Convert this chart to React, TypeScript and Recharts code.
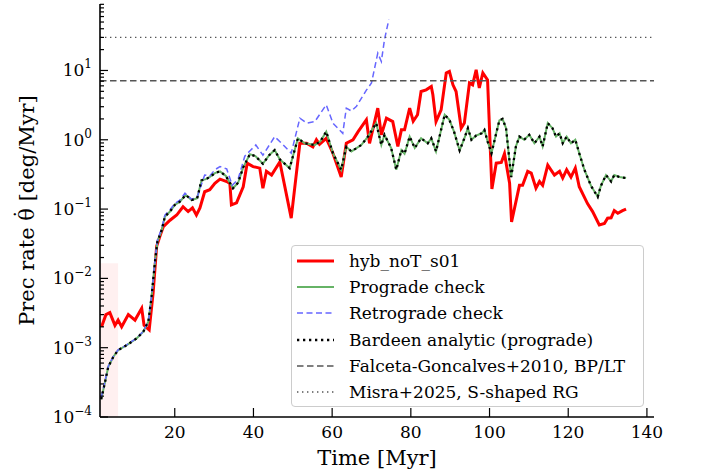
import React from 'react';
import {
  Legend,
  Line,
  LineChart,
  ReferenceArea,
  ReferenceLine,
  XAxis,
  YAxis,
} from 'recharts';

const FONT = '"DejaVu Serif", serif';

// hyb_noT_s01 (red), precession rate in deg/Myr
const hybTime = [
  1.4, 2.5, 3.5, 4.8, 5.6, 6.5, 8.2, 9.9, 11.6, 12.2,
  13.5, 14.5, 15.4, 16.2, 17.1, 18.8, 20.5, 22.1, 23.4, 24.5,
  25.5, 26.4, 27.6, 28.9, 30.2, 31.5, 33.2, 34.0, 34.4, 35.7,
  37.4, 38.4, 39.9, 41.6, 42.4, 43.3, 44.6, 46.7, 49.6, 51.8,
  53.5, 55.1, 56.0, 56.8, 58.5, 60.2, 62.3, 63.6, 65.3, 66.6,
  68.7, 69.5, 71.6, 72.5, 73.8, 75.4, 76.7, 77.6, 78.4, 79.7,
  80.6, 81.7, 82.6, 83.9, 85.2, 85.6, 86.4, 87.7, 89.0, 89.8,
  90.7, 91.5, 92.8, 93.6, 94.9, 95.7, 96.6, 97.4, 98.3, 99.5,
  100.6, 101.7, 103.0, 103.8, 105.1, 105.6, 107.6, 108.4, 109.7, 110.6,
  111.8, 112.7, 113.5, 114.8, 116.5, 117.8, 118.6, 119.6, 120.7, 121.8,
  122.8, 124.9, 126.2, 127.9, 129.2, 130.0, 130.9, 131.7, 132.6, 133.8,
  134.7,
];
const hybRate = [
  0.002, 0.003, 0.0032, 0.0021, 0.0025, 0.002, 0.003, 0.0025, 0.0037, 0.0021,
  0.0018, 0.0062, 0.029, 0.04, 0.056, 0.069, 0.082, 0.108, 0.092, 0.104,
  0.082, 0.104, 0.178, 0.19, 0.235, 0.27, 0.25, 0.235, 0.115, 0.123,
  0.21, 0.46, 0.41, 0.39, 0.2, 0.35, 0.31, 0.48, 0.074, 0.89,
  0.89, 0.79, 1.0, 0.86, 1.05, 0.64, 0.29, 0.89, 1.0, 1.31,
  1.94, 0.89, 2.86, 1.18, 2.05, 1.83, 0.8, 1.39, 1.39, 2.86,
  1.85, 2.3, 4.97, 5.25, 5.87, 4.45, 1.83, 2.7, 9.2, 9.7,
  6.2, 4.97, 1.47, 1.74, 6.6, 6.2, 10.2, 5.6, 9.2, 7.3,
  0.195, 0.46, 0.47, 0.63, 0.236, 0.065, 0.22, 0.22, 0.35, 0.33,
  0.2, 0.25, 0.22, 0.43, 0.31, 0.35, 0.28, 0.37, 0.29, 0.39,
  0.21, 0.12, 0.092, 0.059, 0.062, 0.074, 0.075, 0.095, 0.087, 0.095,
  0.1,
];

// Prograde check (green) and Bardeen analytic (black dotted) overlap
const progTime = [
  1.3, 2.0, 3.1, 4.4, 5.6, 7.8, 10.3, 12.0, 13.3, 14.1,
  15.0, 15.6, 16.7, 17.5, 18.8, 20.0, 21.3, 22.8, 24.3, 25.7,
  26.8, 27.9, 28.9, 30.2, 31.5, 33.0, 34.8, 36.1, 37.4, 39.1,
  40.5, 42.4, 44.0, 45.4, 46.7, 49.2, 51.3, 53.0, 55.6, 57.0,
  58.5, 60.2, 62.3, 63.6, 64.9, 67.4, 69.1, 71.2, 72.5, 73.3,
  75.0, 76.3, 77.6, 78.4, 79.7, 81.0, 82.6, 84.3, 85.2, 86.4,
  88.6, 89.8, 91.0, 92.4, 93.6, 94.5, 95.4, 96.6, 98.0, 98.7,
  99.5, 100.5, 101.7, 102.5, 103.3, 104.2, 105.5, 106.7, 107.6, 108.8,
  110.1, 111.4, 112.7, 113.5, 114.8, 116.0, 116.9, 117.8, 118.6, 119.6,
  120.7, 121.8, 122.8, 124.1, 125.8, 127.5, 128.3, 129.6, 130.9, 131.7,
  133.0, 134.7,
];
const progRate = [
  0.00018, 0.00027, 0.00053, 0.00074, 0.00092, 0.00109, 0.00136, 0.0017, 0.0024, 0.0054,
  0.018, 0.034, 0.05, 0.078, 0.092, 0.115, 0.128, 0.16, 0.135, 0.143,
  0.26, 0.27, 0.29, 0.33, 0.35, 0.3, 0.2, 0.24, 0.4, 0.62,
  0.58, 0.45, 0.6, 0.71, 0.52, 0.39, 1.05, 0.89, 0.84, 0.95,
  1.31, 0.64, 0.37, 0.79, 0.68, 0.84, 1.11, 1.74, 0.84, 1.18,
  0.76, 0.37, 0.71, 0.63, 1.11, 0.76, 1.05, 0.89, 1.05, 0.68,
  2.3, 1.94, 1.3, 0.7, 1.05, 1.47, 1.0, 1.15, 1.24, 1.39,
  0.95, 0.64, 1.24, 1.9, 2.0, 1.47, 0.29, 0.8, 1.11, 1.0,
  1.18, 0.89, 1.11, 0.8, 1.74, 1.47, 1.11, 1.24, 0.89, 1.11,
  0.89, 1.0, 0.64, 0.37, 0.216, 0.15, 0.216, 0.31, 0.25, 0.31,
  0.29, 0.28,
];

// Retrograde check (blue dashed)
const retroTime = [
  1.3, 2.0, 3.1, 4.4, 5.6, 7.8, 10.3, 12.0, 13.3, 14.1,
  15.0, 15.6, 16.7, 17.5, 18.8, 20.0, 21.3, 22.6, 24.3, 25.7,
  27.6, 28.9, 30.2, 31.5, 33.2, 34.6, 36.1, 37.8, 39.2, 40.6,
  42.4, 45.4, 47.5, 49.6, 51.8, 53.5, 55.6, 58.5, 60.2, 62.7,
  63.6, 64.9, 66.2, 68.7, 70.0, 71.6, 72.5, 73.3, 74.4,
];
const retroRate = [
  0.00019, 0.00028, 0.00054, 0.00075, 0.00093, 0.0011, 0.00137, 0.00172, 0.0024, 0.0056,
  0.019, 0.036, 0.053, 0.082, 0.098, 0.12, 0.135, 0.17, 0.138, 0.15,
  0.31, 0.3, 0.37, 0.41, 0.38, 0.22, 0.27, 0.58, 0.7, 0.84,
  0.6, 1.11, 0.85, 0.64, 2.05, 1.74, 1.83, 3.2, 1.74, 1.24,
  2.86, 2.6, 3.05, 5.2, 6.6, 17.8, 13.5, 27.8, 54,
];

// Reference rates
const FALCETA_RATE = 7.1;
const MISRA_RATE = 30;

// Shaded early window
const SHADE_T = [1, 5.6];
const SHADE_RATE = [1e-4, 0.0165];

const X_DOMAIN = [1, 141.8];
const Y_DOMAIN = [1e-4, 91];
const X_TICKS = [20, 40, 60, 80, 100, 120, 140];
const Y_MAJOR = [1e-4, 1e-3, 1e-2, 1e-1, 1, 10];
const Y_TICKS: number[] = [];
Y_MAJOR.forEach((d) => {
  for (let k = 1; k <= 9; k++) {
    const v = +(d * k).toPrecision(3);
    if (v <= Y_DOMAIN[1]) Y_TICKS.push(v);
  }
});

const LEGEND_NAMES = [
  'hyb_noT_s01',
  'Prograde check',
  'Retrograde check',
  'Bardeen analytic (prograde)',
  'Falceta-Goncalves+2010, BP/LT',
  'Misra+2025, S-shaped RG',
];

const STYLES = [
  { stroke: '#ff0000', width: 3, dash: undefined as string | undefined },
  { stroke: '#66b366', width: 2, dash: undefined },
  { stroke: '#6666ff', width: 1.5, dash: '6 3.5' },
  { stroke: '#000000', width: 2.3, dash: '2.3 3.7' },
  { stroke: '#555555', width: 1.4, dash: '6.5 3.5' },
  { stroke: '#555555', width: 1.4, dash: '1.4 3.6' },
];

const toPoints = (ts: number[], vs: number[]) => ts.map((t, i) => ({ t, v: vs[i] }));
const hybData = toPoints(hybTime, hybRate);
const progData = toPoints(progTime, progRate);
const retroData = toPoints(retroTime, retroRate);

const isMajor = (v: number) => Math.abs(Math.log10(v) - Math.round(Math.log10(v))) < 1e-6;

function LeftTick(props: any) {
  const { x, y, payload } = props;
  const v = payload.value;
  const major = isMajor(v);
  const exp = Math.round(Math.log10(v));
  return (
    <g>
      <line x1={x} x2={x + (major ? 8 : 4)} y1={y} y2={y} stroke="#000" strokeWidth={1.2} />
      {major && (
        <text x={x - 8} y={y + 6} textAnchor="end" fontFamily={FONT} fontSize={17} fill="#000">
          10
          <tspan dy={-8} fontSize={12}>
            {exp < 0 ? `\u2212${-exp}` : `${exp}`}
          </tspan>
        </text>
      )}
    </g>
  );
}

function RightTick(props: any) {
  const { x, y, payload } = props;
  const len = isMajor(payload.value) ? 8 : 4;
  return <line x1={x} x2={x - len} y1={y} y2={y} stroke="#000" strokeWidth={1.2} />;
}

function BottomTick(props: any) {
  const { x, y, payload } = props;
  return (
    <g>
      <line x1={x} x2={x} y1={y} y2={y - 9} stroke="#000" strokeWidth={1.2} />
      <text x={x} y={y + 21} textAnchor="middle" fontFamily={FONT} fontSize={17} fill="#000">
        {payload.value}
      </text>
    </g>
  );
}

function TopTick(props: any) {
  const { x, y } = props;
  return <line x1={x} x2={x} y1={y} y2={y + 9} stroke="#000" strokeWidth={1.2} />;
}

function YTitle(p: any) {
  const cy = p.viewBox.y + p.viewBox.height / 2;
  return (
    <text
      x={27}
      y={cy}
      transform={`rotate(-90, 27, ${cy})`}
      textAnchor="middle"
      dominantBaseline="central"
      fontFamily={FONT}
      fontSize={21}
      fill="#000"
    >
      Prec rate θ
      <tspan dx={-11.5} dy={-5}>
        ˙
      </tspan>
      <tspan dx={1} dy={5}>
        {' [deg/Myr]'}
      </tspan>
    </text>
  );
}

function LegendBox() {
  return (
    <div
      style={{
        width: 353,
        height: 162,
        boxSizing: 'border-box',
        border: '1px solid #cccccc',
        borderRadius: 4,
        background: 'rgba(255,255,255,0.8)',
        paddingTop: 2,
        fontFamily: FONT,
        fontSize: 17,
        color: '#000',
      }}
    >
      {LEGEND_NAMES.map((name, i) => (
        <div key={name} style={{ display: 'flex', alignItems: 'center', height: 26.2 }}>
          <svg width={37} height={10} style={{ marginLeft: 5, flex: 'none' }}>
            <line
              x1={0}
              x2={37}
              y1={5}
              y2={5}
              stroke={STYLES[i].stroke}
              strokeWidth={STYLES[i].width}
              strokeDasharray={STYLES[i].dash}
            />
          </svg>
          <span style={{ marginLeft: 15, whiteSpace: 'nowrap' }}>{name}</span>
        </div>
      ))}
    </div>
  );
}

export default function App() {
  const spine = { stroke: '#000', strokeWidth: 1.6 };
  return (
    <div style={{ position: 'absolute', left: 0, top: 0, width: 702, height: 475, background: '#fff' }}>
      <LineChart width={702} height={475} margin={{ top: 4, right: 48, bottom: 0, left: 0 }}>
        <XAxis
          dataKey="t"
          type="number"
          domain={X_DOMAIN}
          allowDataOverflow
          ticks={X_TICKS}
          interval={0}
          height={58}
          tickSize={0}
          tickMargin={0}
          tickLine={false}
          axisLine={spine}
          tick={<BottomTick />}
          label={(p: any) => (
            <text
              x={p.viewBox.x + p.viewBox.width / 2}
              y={p.viewBox.y + 48}
              textAnchor="middle"
              fontFamily={FONT}
              fontSize={21}
              fill="#000"
            >
              Time [Myr]
            </text>
          )}
        />
        <XAxis
          xAxisId="top"
          orientation="top"
          dataKey="t"
          type="number"
          domain={X_DOMAIN}
          allowDataOverflow
          ticks={X_TICKS}
          interval={0}
          height={0}
          tickSize={0}
          tickMargin={0}
          tickLine={false}
          axisLine={spine}
          tick={<TopTick />}
        />
        <YAxis
          type="number"
          scale="log"
          domain={Y_DOMAIN}
          allowDataOverflow
          ticks={Y_TICKS}
          interval={0}
          width={100}
          tickSize={0}
          tickMargin={0}
          tickLine={false}
          axisLine={spine}
          tick={<LeftTick />}
          label={(p: any) => <YTitle {...p} />}
        />
        <YAxis
          yAxisId="right"
          orientation="right"
          type="number"
          scale="log"
          domain={Y_DOMAIN}
          allowDataOverflow
          ticks={Y_TICKS}
          interval={0}
          width={0}
          tickSize={0}
          tickMargin={0}
          tickLine={false}
          axisLine={spine}
          tick={<RightTick />}
        />
        <ReferenceArea
          x1={SHADE_T[0]}
          x2={SHADE_T[1]}
          y1={SHADE_RATE[0]}
          y2={SHADE_RATE[1]}
          fill="#ff0000"
          fillOpacity={0.06}
          stroke="none"
          ifOverflow="hidden"
        />
        <Line
          data={hybData}
          dataKey="v"
          name={LEGEND_NAMES[0]}
          stroke={STYLES[0].stroke}
          strokeWidth={STYLES[0].width}
          dot={false}
          isAnimationActive={false}
        />
        <Line
          data={progData}
          dataKey="v"
          name={LEGEND_NAMES[1]}
          stroke={STYLES[1].stroke}
          strokeWidth={STYLES[1].width}
          dot={false}
          isAnimationActive={false}
        />
        <Line
          data={retroData}
          dataKey="v"
          name={LEGEND_NAMES[2]}
          stroke={STYLES[2].stroke}
          strokeWidth={STYLES[2].width}
          strokeDasharray={STYLES[2].dash}
          dot={false}
          isAnimationActive={false}
        />
        <Line
          data={progData}
          dataKey="v"
          name={LEGEND_NAMES[3]}
          stroke={STYLES[3].stroke}
          strokeWidth={STYLES[3].width}
          strokeDasharray={STYLES[3].dash}
          dot={false}
          isAnimationActive={false}
        />
        <ReferenceLine
          y={FALCETA_RATE}
          stroke={STYLES[4].stroke}
          strokeWidth={STYLES[4].width}
          strokeDasharray={STYLES[4].dash}
        />
        <ReferenceLine
          y={MISRA_RATE}
          stroke={STYLES[5].stroke}
          strokeWidth={STYLES[5].width}
          strokeDasharray={STYLES[5].dash}
        />
        <Legend
          layout="vertical"
          align="center"
          verticalAlign="middle"
          content={<LegendBox />}
          wrapperStyle={{ left: 291, top: 245, width: 353, height: 162 }}
        />
      </LineChart>
    </div>
  );
}
